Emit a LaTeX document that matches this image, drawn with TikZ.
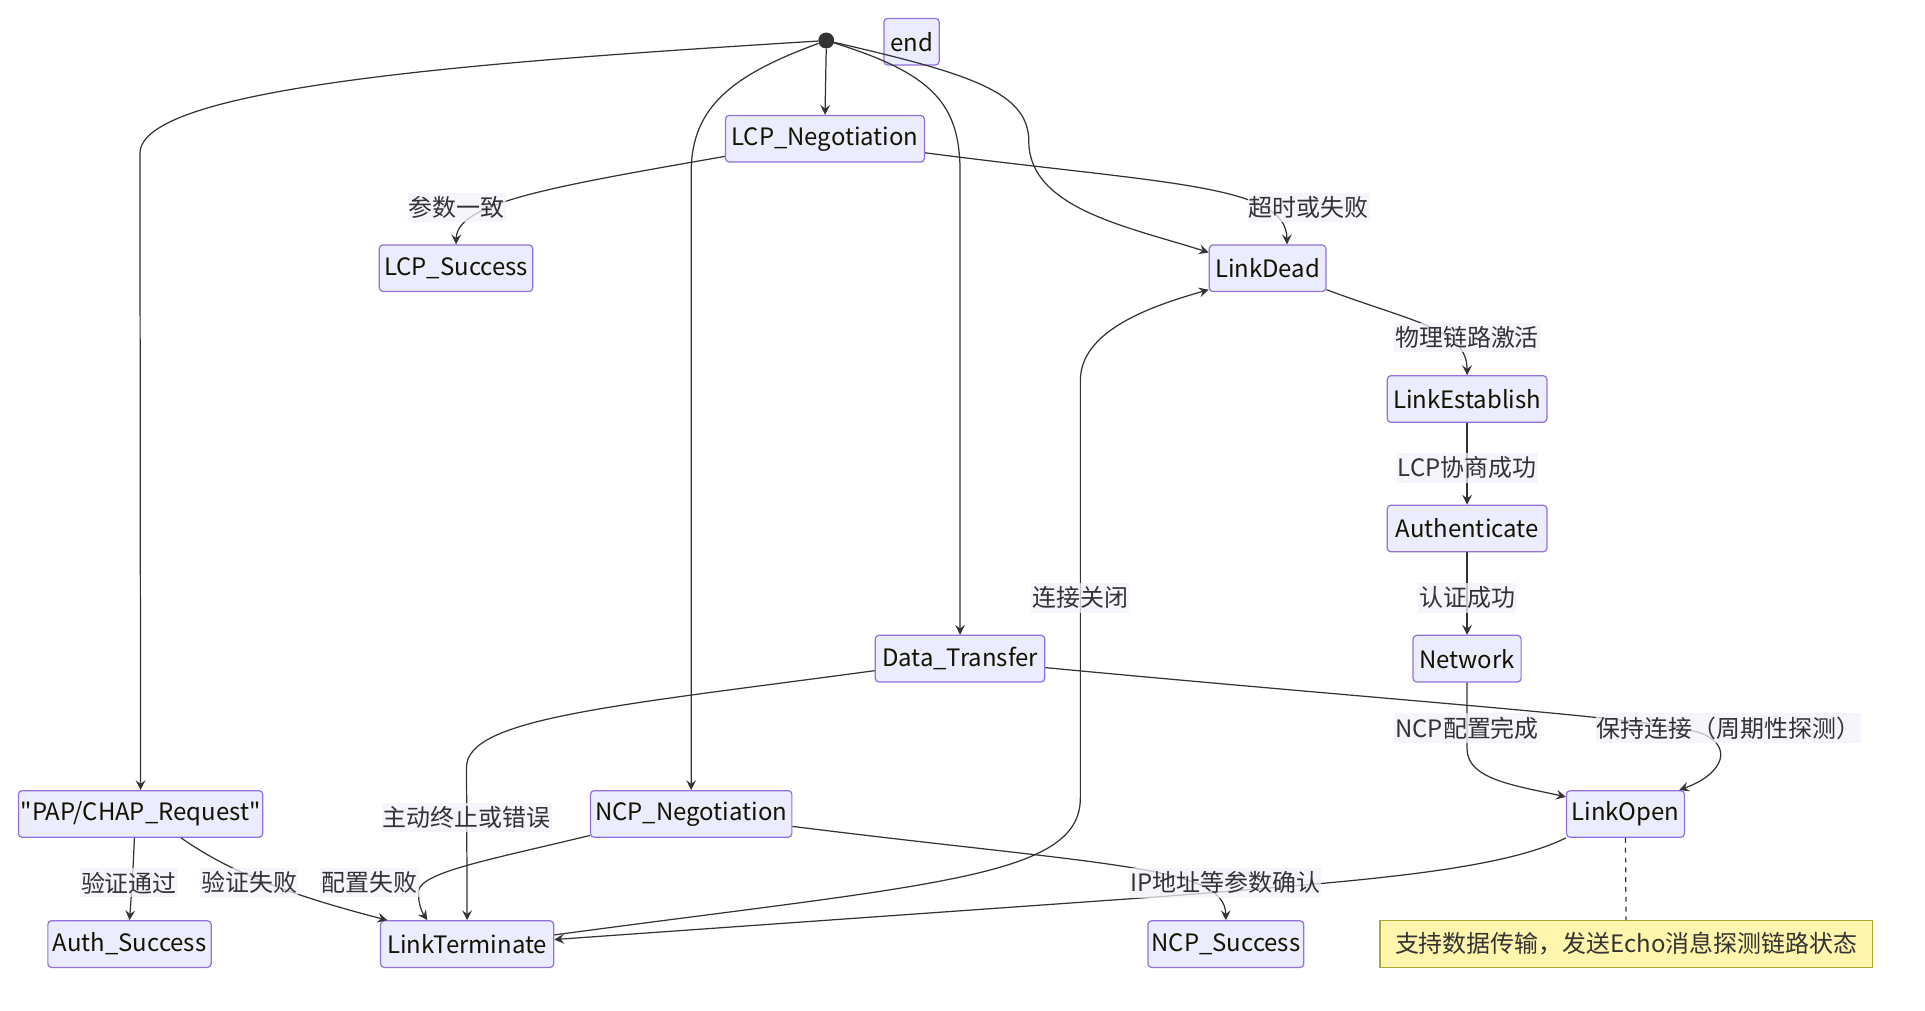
\documentclass[tikz,border=0pt]{standalone}
\usepackage{fontspec}
\setmainfont{Noto Sans CJK SC}[Ligatures=TeXOff]
\usetikzlibrary{arrows.meta}
\definecolor{stfill}{HTML}{ECECFF}
\definecolor{stborder}{HTML}{9370DB}
\definecolor{edgecol}{HTML}{333333}
\definecolor{lblbg}{HTML}{F2F2FA}
\definecolor{notefill}{HTML}{FFF5AD}
\definecolor{noteborder}{HTML}{AAAA33}
\definecolor{txt}{HTML}{131300}
\begin{document}
\begin{tikzpicture}[x=1pt,y=-1pt,
  st/.style={draw=stborder, fill=stfill, rounded corners=3pt, line width=1pt,
    minimum height=38pt, inner sep=0pt, text=txt, font=\fontsize{19.5}{23}\selectfont},
  elabel/.style={fill=lblbg, fill opacity=0.75, text opacity=1, text=edgecol,
    inner xsep=1pt, inner ysep=3pt, font=\fontsize{19.5}{23}\selectfont},
  conn/.style={draw=edgecol, line width=1pt, -{Stealth[length=8pt,width=8pt,inset=3pt]}},
  notebox/.style={draw=noteborder, fill=notefill, line width=1pt, minimum height=38pt,
    inner sep=0pt, text=edgecol, font=\fontsize{19.5}{23}\selectfont},
  startdot/.style={circle, fill=edgecol, minimum size=13pt, inner sep=0pt}
]
\fill[white] (0,0) rectangle (1568,822.7);
\useasboundingbox (0,0) rectangle (1568,822.7);

% states
\node[startdot] (dot) at (673,33) {};
\node[st, minimum width=45pt] (endn) at (742.5,34) {end};
\node[st, minimum width=162pt] (lcpn) at (672,113) {LCP\_Negotiation};
\node[st, minimum width=125pt] (lcps) at (371.5,218.5) {LCP\_Success};
\node[st, minimum width=95pt] (ld) at (1032.5,218.5) {LinkDead};
\node[st, minimum width=130pt] (le) at (1195,325) {LinkEstablish};
\node[st, minimum width=130pt] (au) at (1195,430.5) {Authenticate};
\node[st, minimum width=88pt] (nw) at (1195,536.5) {Network};
\node[st, minimum width=138pt] (dt) at (782,536.5) {Data\_Transfer};
\node[st, minimum width=199pt] (pap) at (114.5,663) {"PAP/CHAP\_Request"};
\node[st, minimum width=164pt] (ncpn) at (563,663) {NCP\_Negotiation};
\node[st, minimum width=96pt] (lo) at (1324,663) {LinkOpen};
\node[st, minimum width=133pt] (as) at (105.5,769) {Auth\_Success};
\node[st, minimum width=141pt] (lt) at (380.5,769) {LinkTerminate};
\node[st, minimum width=127pt] (ncps) at (998.5,769) {NCP\_Success};
\node[notebox, minimum width=401pt] (note) at (1324.5,769) {支持数据传输，发送Echo消息探测链路状态};

% connectors
\draw[conn] (dot.south) -- (lcpn.north);
\draw[conn] (dot) .. controls (400,50) and (114,70) .. (114,125) -- (pap.north);
\draw[conn] (dot) .. controls (600,60) and (563,85) .. (563,140) -- (ncpn.north);
\draw[conn] (dot) .. controls (760,60) and (782,85) .. (782,140) -- (dt.north);
\draw[conn] (dot) .. controls (790,60) and (838,75) .. (838,115)
   .. controls (838,170) and (920,185) .. (ld.165);
\draw[conn] (lcpn.190) .. controls (450,152) and (372,165) .. (lcps.north);
\draw[conn] (lcpn.352) .. controls (950,150) and (1048,150) .. (ld.51);
\draw[conn] (ld.-20) .. controls (1150,262) and (1195,268) .. (le.north);
\draw[conn] (le) -- (au);
\draw[conn] (au) -- (nw);
\draw[conn] (nw.south) -- (1195,610) .. controls (1195,635) and (1235,640) .. (lo.164);
\draw[conn] (dt.-6) .. controls (1150,572) and (1350,585) .. (1385,597)
   .. controls (1412,607) and (1405,630) .. (lo.24);
\draw[conn] (dt.188) .. controls (500,575) and (380,585) .. (380,625) -- (lt.north);
\draw[conn] (lt.6) .. controls (760,720) and (880,715) .. (880,650) -- (880,310)
   .. controls (880,270) and (935,250) .. (ld.200);
\draw[conn] (lo.south west) .. controls (1220,710) and (1100,718) .. (950,730) -- (lt.3);
\draw[conn] (ncpn.-7) .. controls (900,705) and (998,705) .. (ncps.north);
\draw[conn] (ncpn.192) .. controls (400,700) and (345,710) .. (341,725)
   .. controls (340,737) and (345,745) .. (lt.149);
\draw[conn] ([xshift=-5pt]pap.south) .. controls (108,715) .. (as.north);
\draw[conn] ([xshift=33pt]pap.south) .. controls (180,705) and (220,725) .. ([xshift=6pt]lt.north west);
\draw[draw=edgecol, line width=1pt, dash pattern=on 4pt off 4pt] (lo.south) -- (note.north);

% edge labels
\node[elabel] (l1) at (372,169) {参数一致};
\node[elabel] (l2) at (1066,169) {超时或失败};
\node[elabel] (l3) at (1195,275) {物理链路激活};
\node[elabel] (l4) at (1195,381) {LCP协商成功};
\node[elabel] (l5) at (1195,487) {认证成功};
\node[elabel] (l6) at (880,487) {连接关闭};
\node[elabel] (l7) at (1195,593) {NCP配置完成};
\node[elabel] (l8) at (1408,593) {保持连接（周期性探测）};
\node[elabel] (l9) at (380,666) {主动终止或错误};
\node[elabel] (l10) at (105,719) {验证通过};
\node[elabel] (l11) at (203,719) {验证失败};
\node[elabel] (l12) at (301,719) {配置失败};
\node[elabel] (l13) at (998,719) {IP地址等参数确认};
\end{tikzpicture}
\end{document}
